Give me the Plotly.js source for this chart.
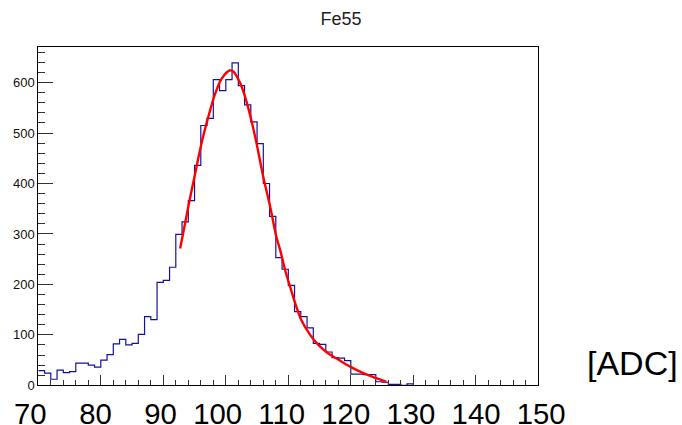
<!DOCTYPE html>
<html>
<head>
<meta charset="utf-8">
<script src="https://cdn.plot.ly/plotly-3.0.1.min.js"></script>
<style>
  html, body { margin: 0; padding: 0; background: #fff; }
  #chart { width: 682px; height: 425px; }
</style>
</head>
<body>
<div id="chart"></div>
<script>
// Fe55 spectrum: 1 ADC wide bins, lower edges
const binLow = [
  70, 71, 72, 73, 74, 75, 76, 77, 78, 79,
  80, 81, 82, 83, 84, 85, 86, 87, 88, 89,
  90, 91, 92, 93, 94, 95, 96, 97, 98, 99,
  100, 101, 102, 103, 104, 105, 106, 107, 108, 109,
  110, 111, 112, 113, 114, 115, 116, 117, 118, 119,
  120, 121, 122, 123, 124, 125, 126, 127, 128, 129
];
const counts = [
  29, 24, 12, 30, 25, 27, 44, 44, 40, 36,
  50, 61, 82, 91, 80, 83, 101, 136, 130, 204,
  208, 234, 299, 324, 366, 436, 515, 529, 606, 584,
  606, 639, 594, 556, 522, 479, 400, 335, 253, 230,
  198, 146, 136, 114, 83, 81, 66, 55, 54, 49,
  22, 22, 21, 21, 7, 6, 2, 2, 0, 3
];

// fitted peak curve, sampled over the fit range
const fitX = [92.7, 94.0, 95.1, 96.1, 97.2, 98.3, 99.3, 100.6, 101.2, 102.3,
              103.3, 104.1, 104.9, 106.0, 107.1, 108.1, 108.7, 109.5, 110.3, 111.1,
              112.1, 113.5, 114.8, 116.4, 118.0, 119.9, 122.0, 124.1, 125.7];
const fitY = [271, 354, 420, 479, 532, 578, 607, 624, 622, 599,
              563, 525, 481, 413, 354, 294, 268, 228, 195, 163,
              129, 100, 80, 63, 51, 37, 24, 14, 7];

const xTickLabels = ['70', '80', '90', '100', '110', '120', '130', '140', '150'];
const yTickVals = [0, 100, 200, 300, 400, 500, 600];

const histTitle = 'Fe55';
const unitLabel = '[ADC]';

// step outline: close the last bin back down to the baseline
const stepX = binLow.concat([binLow[binLow.length - 1] + 1]);
const stepY = counts.concat([0]);

// spacing (non-breaking spaces) between the large axis numbers
const gaps = [4, 4, 2, 2, 2, 2, 2, 2];
let xLabelLine = xTickLabels[0];
for (let i = 1; i < xTickLabels.length; i++) {
  xLabelLine += '\u00a0'.repeat(gaps[i - 1]) + xTickLabels[i];
}

const W = 682, H = 425;
const plotL = 38.3, plotR = 538.3, plotT = 47.3, plotB = 385.3;

const traces = [
  {
    type: 'scatter', mode: 'lines',
    x: stepX, y: stepY,
    line: { shape: 'hv', color: '#12129c', width: 1.2 },
    hoverinfo: 'skip'
  },
  {
    type: 'scatter', mode: 'lines',
    x: fitX, y: fitY,
    line: { shape: 'spline', smoothing: 0.9, color: '#ff0000', width: 2.4 },
    hoverinfo: 'skip'
  }
];

const font = 'Liberation Sans, Arial, Helvetica, sans-serif';

const layout = {
  width: W, height: H,
  margin: { l: 0, r: 0, t: 0, b: 0 },
  paper_bgcolor: '#ffffff',
  plot_bgcolor: '#ffffff',
  showlegend: false,
  font: { family: font, color: '#111' },
  title: {
    text: histTitle,
    font: { family: font, size: 18, color: '#222' },
    xref: 'paper', x: ((plotL + plotR) / 2 - plotL) / (plotR - plotL), xanchor: 'center',
    yref: 'container', y: 1 - 18.5 / H, yanchor: 'middle'
  },
  xaxis: {
    domain: [plotL / W, plotR / W],
    range: [70, 150],
    tick0: 70, dtick: 10,
    ticks: 'inside', ticklen: 10, tickwidth: 1, tickcolor: '#333',
    minor: { dtick: 2, ticks: 'inside', ticklen: 5, tickwidth: 1, tickcolor: '#333' },
    showticklabels: false,
    showgrid: false, zeroline: false,
    showline: true, mirror: true, linecolor: '#000', linewidth: 1,
    automargin: false, fixedrange: true
  },
  yaxis: {
    domain: [1 - plotB / H, 1 - plotT / H],
    range: [0, 670],
    tickmode: 'array', tickvals: yTickVals,
    ticks: 'inside', ticklen: 15, tickwidth: 1, tickcolor: '#333',
    minor: { dtick: 20, ticks: 'inside', ticklen: 7, tickwidth: 1, tickcolor: '#333' },
    tickfont: { family: font, size: 13, color: '#111' },
    showgrid: false, zeroline: false,
    showline: true, mirror: true, linecolor: '#000', linewidth: 1,
    automargin: false, fixedrange: true
  },
  annotations: [
    {
      text: xLabelLine, showarrow: false,
      xref: 'paper', yref: 'paper',
      x: 11.5 / W, xanchor: 'left',
      y: 1 - 413 / H, yanchor: 'middle',
      font: { family: font, size: 29.3, color: '#000' }
    },
    {
      text: unitLabel, showarrow: false,
      xref: 'paper', yref: 'paper',
      x: 584.5 / W, xanchor: 'left',
      y: 1 - 363 / H, yanchor: 'middle',
      font: { family: font, size: 34, color: '#000' }
    }
  ]
};

Plotly.newPlot('chart', traces, layout, { displayModeBar: false, staticPlot: true });
</script>
</body>
</html>
